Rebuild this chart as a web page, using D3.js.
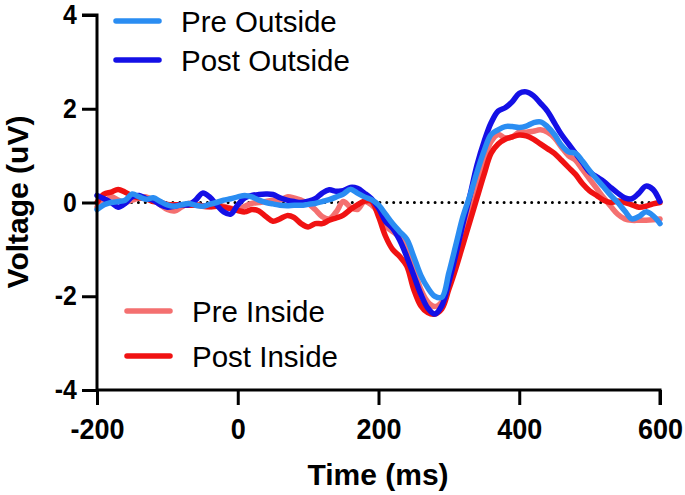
<!DOCTYPE html>
<html>
<head>
<meta charset="utf-8">
<script src="https://cdn.jsdelivr.net/npm/d3@7"></script>
<style>
  html, body { margin: 0; padding: 0; background: #fff; }
  svg { display: block; }
  text { font-family: "Liberation Sans", Arial, Helvetica, sans-serif; fill: #000; }
</style>
</head>
<body>
<svg id="chart" width="685" height="495"></svg>
<script>
// ---------- data ----------
const times = d3.range(-200, 601, 10);

const preOutside = [
  -0.15,-0.05,0.0,0.02,0.05,0.18,0.12,0.07,0.1,0.02,
  -0.05,-0.08,-0.05,-0.02,-0.06,-0.08,-0.04,0.0,0.05,0.08,
  0.12,0.15,0.12,0.05,0.0,-0.03,-0.06,-0.07,-0.06,-0.06,
  -0.04,-0.02,0.02,0.06,0.12,0.18,0.28,0.2,0.12,0.06,
  -0.05,-0.25,-0.45,-0.62,-0.78,-1.15,-1.55,-1.82,-2.0,-2.02,
  -1.5,-0.9,-0.3,0.15,0.65,1.1,1.45,1.55,1.62,1.62,
  1.6,1.63,1.7,1.72,1.62,1.45,1.22,1.08,1.05,0.88,
  0.68,0.5,0.33,0.15,0.0,-0.18,-0.35,-0.3,-0.2,-0.28,
  -0.45
];

const postOutside = [
  0.15,0.08,0.0,-0.1,-0.02,0.12,0.15,0.08,0.05,-0.05,
  -0.1,-0.08,-0.05,-0.05,0.05,0.2,0.12,-0.05,-0.2,-0.25,
  -0.05,0.1,0.15,0.17,0.18,0.17,0.1,0.05,0.02,0.0,
  0.03,0.08,0.2,0.27,0.24,0.25,0.32,0.3,0.2,0.08,
  -0.12,-0.4,-0.55,-0.8,-1.15,-1.55,-1.95,-2.25,-2.38,-2.2,
  -1.7,-1.1,-0.45,0.15,0.8,1.3,1.7,1.95,2.02,2.15,
  2.33,2.36,2.28,2.12,1.95,1.7,1.45,1.25,1.05,0.85,
  0.65,0.55,0.45,0.32,0.2,0.1,0.08,0.2,0.35,0.28,
  0.02
];

const preInside = [
  -0.1,0.0,0.12,0.05,0.0,0.05,0.1,0.12,0.05,-0.05,
  -0.15,-0.18,-0.1,-0.02,-0.03,-0.08,-0.1,-0.08,-0.08,-0.12,
  -0.15,-0.08,-0.02,0.0,0.02,0.05,0.05,0.12,0.1,0.05,
  -0.02,-0.15,-0.3,-0.35,-0.2,0.02,-0.1,-0.15,0.02,-0.05,
  -0.22,-0.5,-0.62,-0.73,-0.95,-1.4,-1.85,-2.12,-2.22,-2.12,
  -1.75,-1.3,-0.72,-0.15,0.4,0.9,1.3,1.45,1.38,1.4,
  1.5,1.5,1.52,1.55,1.5,1.38,1.18,1.0,0.9,0.7,
  0.5,0.3,0.1,-0.08,-0.25,-0.35,-0.38,-0.38,-0.38,-0.37,
  -0.35
];

const postInside = [
  0.0,0.18,0.22,0.28,0.22,0.14,0.1,0.08,0.02,0.0,
  -0.04,-0.05,-0.05,-0.06,-0.06,-0.07,-0.08,-0.08,-0.1,-0.13,
  -0.17,-0.2,-0.15,-0.18,-0.3,-0.4,-0.35,-0.28,-0.32,-0.45,
  -0.52,-0.45,-0.45,-0.38,-0.33,-0.27,-0.15,-0.05,0.03,0.03,
  -0.3,-0.72,-1.0,-1.15,-1.35,-1.85,-2.2,-2.35,-2.38,-2.27,
  -1.85,-1.4,-0.9,-0.4,0.1,0.6,1.05,1.25,1.35,1.4,
  1.44,1.42,1.35,1.25,1.15,1.05,0.9,0.75,0.6,0.4,
  0.25,0.15,0.05,0.0,0.03,0.0,-0.05,-0.1,-0.08,-0.03,
  0.0
];

const xTicks = [-200, 0, 200, 400, 600];
const yTicks = [-4, -2, 0, 2, 4];
const seriesNames = ["Pre Outside", "Post Outside", "Pre Inside", "Post Inside"];
const seriesColors = ["#2a8df2", "#1410e6", "#f47070", "#f01212"];

// ---------- chart ----------
const svg = d3.select("#chart");
const x = d3.scaleLinear().domain([-200, 600]).range([97, 660]);
const y = d3.scaleLinear().domain([-4, 4]).range([390, 15]);

const seriesData = {
  "Pre Outside": preOutside,
  "Post Outside": postOutside,
  "Pre Inside": preInside,
  "Post Inside": postInside
};
const colorOf = {};
seriesNames.forEach((n, i) => colorOf[n] = seriesColors[i]);

// zero dotted line
svg.append("line")
  .attr("x1", x(-200)).attr("x2", x(600))
  .attr("y1", y(0)).attr("y2", y(0))
  .attr("stroke", "#000").attr("stroke-width", 3)
  .attr("stroke-linecap", "round")
  .attr("stroke-dasharray", "0 6.9");

const line = d3.line()
  .x((d, i) => x(times[i]))
  .y(d => y(d))
  .curve(d3.curveCatmullRom.alpha(0.5));

// draw order: pre inside, post inside, post outside, pre outside (top)
["Pre Inside", "Post Inside", "Post Outside", "Pre Outside"].forEach(name => {
  svg.append("path")
    .datum(seriesData[name])
    .attr("d", line)
    .attr("fill", "none")
    .attr("stroke", colorOf[name])
    .attr("stroke-width", 5.5)
    .attr("stroke-linejoin", "round")
    .attr("stroke-linecap", "round");
});

// axes
const xAxis = svg.append("g")
  .attr("transform", `translate(0,${y(-4)})`)
  .call(d3.axisBottom(x).tickValues(xTicks).tickSize(15).tickPadding(13).tickFormat(d3.format("d")));
xAxis.select(".domain").attr("stroke", "#000").attr("stroke-width", 3).attr("d", `M${x(-200)},0H${x(600)}V15`);
xAxis.selectAll(".tick line").attr("stroke", "#000").attr("stroke-width", 3);
xAxis.selectAll(".tick text")
  .attr("font-size", 30).attr("font-weight", "bold")
  .attr("font-family", "'Liberation Sans', Arial, sans-serif")
  .attr("transform", "scale(0.9,1)")
  .text(d => d < 0 ? "-" + Math.abs(d) : d);

const yAxis = svg.append("g")
  .attr("transform", `translate(${x(-200)},0)`)
  .call(d3.axisLeft(y).tickValues(yTicks).tickSize(15).tickPadding(7).tickFormat(d3.format("d")));
yAxis.select(".domain").attr("stroke", "#000").attr("stroke-width", 3).attr("d", `M-15,${y(4)}H0V${y(-4)}`);
yAxis.selectAll(".tick line").attr("stroke", "#000").attr("stroke-width", 3);
yAxis.selectAll(".tick text")
  .attr("font-size", 27).attr("font-weight", "bold")
  .attr("font-family", "'Liberation Sans', Arial, sans-serif")
  .attr("transform", "scale(0.92,1)")
  .text(d => d < 0 ? "-" + Math.abs(d) : d);

// axis titles
svg.append("text")
  .attr("x", 378).attr("y", 485)
  .attr("text-anchor", "middle")
  .attr("font-size", 30).attr("font-weight", "bold")
  .text("Time (ms)");

svg.append("text")
  .attr("transform", "translate(28,202) rotate(-90)")
  .attr("text-anchor", "middle")
  .attr("font-size", 30).attr("font-weight", "bold")
  .text("Voltage (uV)");

// legends
const legendItems = [
  { name: "Pre Outside", lx: 116, ly: 21, tx: 181, ty: 31.5 },
  { name: "Post Outside", lx: 116, ly: 60, tx: 181, ty: 70.5 },
  { name: "Pre Inside", lx: 127, ly: 311, tx: 192, ty: 321.5 },
  { name: "Post Inside", lx: 127, ly: 356, tx: 192, ty: 366.5 }
];
legendItems.forEach(item => {
  svg.append("line")
    .attr("x1", item.lx).attr("x2", item.lx + 43)
    .attr("y1", item.ly).attr("y2", item.ly)
    .attr("stroke", colorOf[item.name]).attr("stroke-width", 5.5)
    .attr("stroke-linecap", "round");
  svg.append("text")
    .attr("x", item.tx).attr("y", item.ty)
    .attr("font-size", 29.5)
    .text(item.name);
});
</script>
</body>
</html>
